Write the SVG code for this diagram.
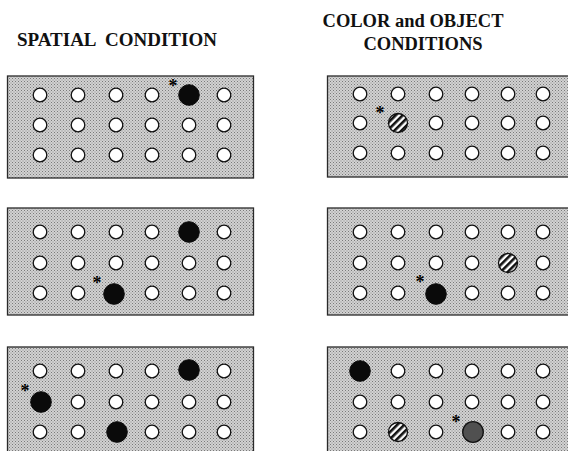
<svg xmlns="http://www.w3.org/2000/svg" width="568" height="451" viewBox="0 0 568 451">
<defs>
<pattern id="stripes" width="5" height="5" patternUnits="userSpaceOnUse" patternTransform="rotate(45)">
<rect x="0" y="0" width="5" height="5" fill="#ffffff"/>
<rect x="0" y="0" width="2.6" height="5" fill="#111111"/>
</pattern>
<pattern id="halftone" width="3" height="3" patternUnits="userSpaceOnUse">
<rect width="3" height="3" fill="#d2d2d2"/>
<rect x="0" y="0" width="1" height="1" fill="#7a7a7a"/>
<rect x="1.5" y="1.5" width="1" height="1" fill="#8a8a8a"/>
</pattern>
</defs>
<style>
.title{font-family:"Liberation Serif","Times New Roman",serif;font-weight:bold;fill:#111;}
.panel{fill:url(#halftone);stroke:#2a2a2a;stroke-width:1.3;}
.w{fill:#ffffff;stroke:#111;stroke-width:1.3;}
.b{fill:#0a0a0a;stroke:#0a0a0a;stroke-width:1;}
.s{fill:url(#stripes);stroke:#111;stroke-width:1.3;}
.g{fill:#505050;stroke:#111;stroke-width:1.3;}
.ast{font-family:"Liberation Serif","Times New Roman",serif;font-weight:bold;font-size:18px;fill:#000;text-anchor:middle;}
</style>
<rect width="568" height="451" fill="#ffffff"/>
<g id="titles">
<text class="title" x="17" y="46" font-size="19" xml:space="preserve">SPATIAL  CONDITION</text>
<text class="title" x="413" y="27" font-size="18.5" text-anchor="middle">COLOR and OBJECT</text>
<text class="title" x="423" y="50" font-size="18.5" text-anchor="middle">CONDITIONS</text>
</g>

<g id="spatial-1">
<rect class="panel" x="7.5" y="76" width="246" height="102"/>
<circle class="w" cx="40" cy="95" r="6.8"/><circle class="w" cx="78" cy="95" r="6.8"/><circle class="w" cx="116" cy="95" r="6.8"/><circle class="w" cx="152" cy="95" r="6.8"/><circle class="b" cx="189" cy="95" r="10.3"/><circle class="w" cx="224" cy="95" r="6.8"/>
<circle class="w" cx="40" cy="125" r="6.8"/><circle class="w" cx="78" cy="125" r="6.8"/><circle class="w" cx="116" cy="125" r="6.8"/><circle class="w" cx="152" cy="125" r="6.8"/><circle class="w" cx="189" cy="125" r="6.8"/><circle class="w" cx="224" cy="125" r="6.8"/>
<circle class="w" cx="40" cy="155" r="6.8"/><circle class="w" cx="78" cy="155" r="6.8"/><circle class="w" cx="116" cy="155" r="6.8"/><circle class="w" cx="152" cy="155" r="6.8"/><circle class="w" cx="189" cy="155" r="6.8"/><circle class="w" cx="224" cy="155" r="6.8"/>
<text class="ast" x="173" y="92">*</text>
</g>

<g id="spatial-2">
<rect class="panel" x="7.5" y="208" width="246" height="107"/>
<circle class="w" cx="40" cy="232" r="6.8"/><circle class="w" cx="78" cy="232" r="6.8"/><circle class="w" cx="116" cy="232" r="6.8"/><circle class="w" cx="152" cy="232" r="6.8"/><circle class="b" cx="189" cy="232" r="10.3"/><circle class="w" cx="224" cy="232" r="6.8"/>
<circle class="w" cx="40" cy="263" r="6.8"/><circle class="w" cx="78" cy="263" r="6.8"/><circle class="w" cx="116" cy="263" r="6.8"/><circle class="w" cx="152" cy="263" r="6.8"/><circle class="w" cx="189" cy="263" r="6.8"/><circle class="w" cx="224" cy="263" r="6.8"/>
<circle class="w" cx="40" cy="293" r="6.8"/><circle class="w" cx="78" cy="293" r="6.8"/><circle class="b" cx="114" cy="294" r="10.3"/><circle class="w" cx="152" cy="293" r="6.8"/><circle class="w" cx="189" cy="293" r="6.8"/><circle class="w" cx="224" cy="293" r="6.8"/>
<text class="ast" x="97" y="289">*</text>
</g>

<g id="spatial-3">
<rect class="panel" x="7.5" y="347" width="246" height="110"/>
<circle class="w" cx="40" cy="371" r="6.8"/><circle class="w" cx="78" cy="371" r="6.8"/><circle class="w" cx="116" cy="371" r="6.8"/><circle class="w" cx="152" cy="371" r="6.8"/><circle class="b" cx="189" cy="370" r="10.3"/><circle class="w" cx="224" cy="371" r="6.8"/>
<circle class="b" cx="41" cy="402" r="10.3"/><circle class="w" cx="78" cy="402" r="6.8"/><circle class="w" cx="116" cy="402" r="6.8"/><circle class="w" cx="152" cy="402" r="6.8"/><circle class="w" cx="189" cy="402" r="6.8"/><circle class="w" cx="224" cy="402" r="6.8"/>
<circle class="w" cx="40" cy="432" r="6.8"/><circle class="w" cx="78" cy="432" r="6.8"/><circle class="b" cx="117" cy="432" r="10.3"/><circle class="w" cx="152" cy="432" r="6.8"/><circle class="w" cx="189" cy="432" r="6.8"/><circle class="w" cx="224" cy="432" r="6.8"/>
<text class="ast" x="25" y="397">*</text>
</g>

<g id="color-object-1">
<rect class="panel" x="327.5" y="76" width="250" height="101"/>
<circle class="w" cx="360" cy="94" r="6.8"/><circle class="w" cx="398" cy="94" r="6.8"/><circle class="w" cx="436" cy="94" r="6.8"/><circle class="w" cx="472" cy="94" r="6.8"/><circle class="w" cx="508" cy="94" r="6.8"/><circle class="w" cx="543" cy="94" r="6.8"/>
<circle class="w" cx="360" cy="123" r="6.8"/><circle class="s" cx="398" cy="123" r="9.5"/><circle class="w" cx="436" cy="123" r="6.8"/><circle class="w" cx="472" cy="123" r="6.8"/><circle class="w" cx="508" cy="123" r="6.8"/><circle class="w" cx="543" cy="123" r="6.8"/>
<circle class="w" cx="360" cy="153" r="6.8"/><circle class="w" cx="398" cy="153" r="6.8"/><circle class="w" cx="436" cy="153" r="6.8"/><circle class="w" cx="472" cy="153" r="6.8"/><circle class="w" cx="508" cy="153" r="6.8"/><circle class="w" cx="543" cy="153" r="6.8"/>
<text class="ast" x="380" y="119">*</text>
</g>

<g id="color-object-2">
<rect class="panel" x="327.5" y="208" width="250" height="107"/>
<circle class="w" cx="360" cy="232" r="6.8"/><circle class="w" cx="398" cy="232" r="6.8"/><circle class="w" cx="436" cy="232" r="6.8"/><circle class="w" cx="472" cy="232" r="6.8"/><circle class="w" cx="508" cy="232" r="6.8"/><circle class="w" cx="543" cy="232" r="6.8"/>
<circle class="w" cx="360" cy="263" r="6.8"/><circle class="w" cx="398" cy="263" r="6.8"/><circle class="w" cx="436" cy="263" r="6.8"/><circle class="w" cx="472" cy="263" r="6.8"/><circle class="s" cx="508" cy="263" r="9.5"/><circle class="w" cx="543" cy="263" r="6.8"/>
<circle class="w" cx="360" cy="293" r="6.8"/><circle class="w" cx="398" cy="293" r="6.8"/><circle class="b" cx="436" cy="294" r="10.3"/><circle class="w" cx="472" cy="293" r="6.8"/><circle class="w" cx="508" cy="293" r="6.8"/><circle class="w" cx="543" cy="293" r="6.8"/>
<text class="ast" x="420" y="288">*</text>
</g>

<g id="color-object-3">
<rect class="panel" x="327.5" y="347" width="250" height="110"/>
<circle class="b" cx="360" cy="371" r="10.3"/><circle class="w" cx="398" cy="371" r="6.8"/><circle class="w" cx="436" cy="371" r="6.8"/><circle class="w" cx="472" cy="371" r="6.8"/><circle class="w" cx="508" cy="371" r="6.8"/><circle class="w" cx="543" cy="371" r="6.8"/>
<circle class="w" cx="360" cy="402" r="6.8"/><circle class="w" cx="398" cy="402" r="6.8"/><circle class="w" cx="436" cy="402" r="6.8"/><circle class="w" cx="472" cy="402" r="6.8"/><circle class="w" cx="508" cy="402" r="6.8"/><circle class="w" cx="543" cy="402" r="6.8"/>
<circle class="w" cx="360" cy="432" r="6.8"/><circle class="s" cx="398" cy="432" r="9.5"/><circle class="w" cx="436" cy="432" r="6.8"/><circle class="g" cx="473" cy="432" r="10.3"/><circle class="w" cx="508" cy="432" r="6.8"/><circle class="w" cx="543" cy="432" r="6.8"/>
<text class="ast" x="456" y="428">*</text>
</g>
</svg>
